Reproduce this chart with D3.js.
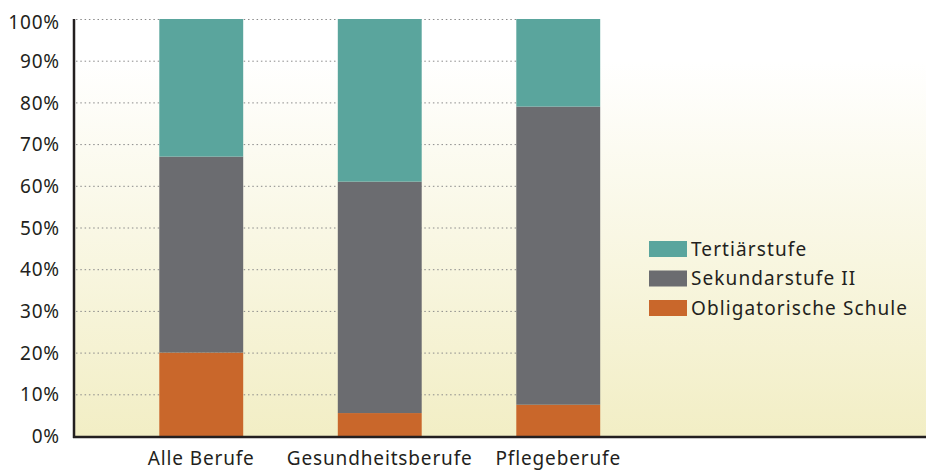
<!DOCTYPE html>
<html><head><meta charset="utf-8">
<script src="https://cdn.jsdelivr.net/npm/d3@7"></script>
<style>body{margin:0;background:#fff}svg{display:block}text{font-family:"Noto Sans",Roboto,sans-serif;fill:#231f20}</style>
</head><body><svg id="c" width="926" height="470"></svg>
<script>
const categories = ["Alle Berufe", "Gesundheitsberufe", "Pflegeberufe"];
const seriesNames = ["Obligatorische Schule", "Sekundarstufe II", "Tertiärstufe"];
const obligatorisch = [20, 5.5, 7.5];
const sekundar = [47, 55.5, 71.5];
const tertiaer = [33, 39, 21];
const yTicks = [0, 10, 20, 30, 40, 50, 60, 70, 80, 90, 100];
const colors = {"Obligatorische Schule": "#c9672b", "Sekundarstufe II": "#6b6c70", "Tertiärstufe": "#5aa59d"};

const FONT = '"Noto Sans",Roboto,sans-serif';
const FS = 19;
const LS = 0.85;

const svg = d3.select("#c");
const x0 = 74, yTop = 19, yBot = 436;
const y = d3.scaleLinear().domain([0, 100]).range([yBot, yTop]);
const x = d3.scaleBand().domain(categories).range([112, 647.5]).paddingInner(0.53).paddingOuter(0.265);

const defs = svg.append("defs");
const g = defs.append("linearGradient").attr("id", "bg").attr("x1", 0).attr("y1", 0).attr("x2", 0).attr("y2", 1);
g.append("stop").attr("offset", "0%").attr("stop-color", "#ffffff");
g.append("stop").attr("offset", "10%").attr("stop-color", "#ffffff");
g.append("stop").attr("offset", "100%").attr("stop-color", "#f2eec5");
svg.append("rect").attr("x", x0).attr("y", yTop).attr("width", 926 - x0).attr("height", yBot - yTop).attr("fill", "url(#bg)");

// gridlines
const gridRight = x(categories[2]) + x.bandwidth();
svg.append("g").selectAll("line").data(yTicks.filter(d => d > 0)).join("line")
  .attr("x1", x0 + 2).attr("x2", gridRight).attr("y1", d => y(d) + 0.5).attr("y2", d => y(d) + 0.5)
  .attr("stroke", "#8a8a8a").attr("stroke-width", 1).attr("stroke-dasharray", "1.5,2.8");

// stacked data
const rows = categories.map((c, i) => ({cat: c, "Obligatorische Schule": obligatorisch[i], "Sekundarstufe II": sekundar[i], "Tertiärstufe": tertiaer[i]}));
const stack = d3.stack().keys(seriesNames)(rows);
svg.append("g").selectAll("g").data(stack).join("g").attr("fill", d => colors[d.key])
  .selectAll("rect").data(d => d).join("rect")
  .attr("x", d => x(d.data.cat)).attr("width", x.bandwidth())
  .attr("y", d => y(d[1])).attr("height", d => y(d[0]) - y(d[1]));

// axes
const yAxis = d3.axisLeft(y).tickValues(yTicks).tickFormat(d => d + "%").tickSize(0).tickPadding(14);
const ya = svg.append("g").attr("transform", `translate(${x0},0)`).call(yAxis);
ya.select(".domain").remove();
ya.selectAll("text").attr("font-size", FS).attr("font-family", FONT).attr("letter-spacing", LS).attr("fill", "#231f20").attr("dy", "0.35em");
ya.selectAll(".tick").filter(d => d === 100).select("text").attr("dy", "0.5em");
svg.append("line").attr("x1", x0).attr("x2", x0).attr("y1", yTop).attr("y2", yBot + 2).attr("stroke", "#231f20").attr("stroke-width", 2.5);
svg.append("line").attr("x1", x0 - 1).attr("x2", 926).attr("y1", yBot + 1).attr("y2", yBot + 1).attr("stroke", "#231f20").attr("stroke-width", 2.5);

const xAxis = d3.axisBottom(x).tickSize(0).tickPadding(0);
const xa = svg.append("g").attr("transform", `translate(0,0)`).call(xAxis);
xa.select(".domain").remove();
xa.selectAll("text").attr("y", 465).attr("dy", null).attr("font-size", FS).attr("font-family", FONT).attr("letter-spacing", LS).attr("fill", "#231f20");

// legend
const legendItems = ["Tertiärstufe", "Sekundarstufe II", "Obligatorische Schule"];
const lg = svg.append("g").selectAll("g").data(legendItems).join("g")
  .attr("transform", (d, i) => `translate(649,${241 + i * 29.5})`);
lg.append("rect").attr("width", 38).attr("height", 16).attr("fill", d => colors[d]);
lg.append("text").attr("x", 42).attr("y", 8).attr("dy", "0.36em").attr("font-size", FS).attr("letter-spacing", 1.1).text(d => d);
</script></body></html>
